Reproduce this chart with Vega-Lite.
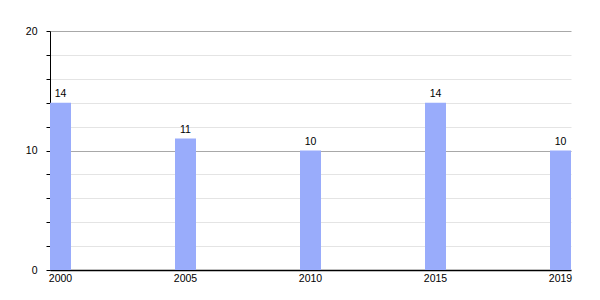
{
  "$schema": "https://vega.github.io/schema/vega-lite/v6.json",
  "autosize": "none",
  "padding": {"left": 50, "top": 31, "right": 29, "bottom": 30},
  "width": 521,
  "height": 239,
  "background": "white",
  "config": {
    "view": {"stroke": null},
    "font": "Liberation Sans",
    "axis": {"labelFont": "Liberation Sans", "labelColor": "#000", "labelFontSize": 10.5}
  },
  "data": {
    "values": [
      {"year": "2000", "value": 14},
      {"year": "2005", "value": 11},
      {"year": "2010", "value": 10},
      {"year": "2015", "value": 14},
      {"year": "2019", "value": 10}
    ]
  },
  "encoding": {
    "x": {
      "field": "year",
      "type": "ordinal",
      "sort": null,
      "scale": {"paddingInner": 0.832, "paddingOuter": 0},
      "axis": {
        "title": null,
        "labelAngle": 0,
        "ticks": false,
        "domainColor": "#000",
        "domainWidth": 1.5,
        "labelPadding": 3,
        "grid": false
      }
    },
    "y": {
      "field": "value",
      "type": "quantitative",
      "scale": {"domain": [0, 20], "nice": false},
      "axis": {
        "title": null,
        "values": [0, 2, 4, 6, 8, 10, 12, 14, 16, 18, 20],
        "labelExpr": "datum.value % 10 === 0 ? datum.label : ''",
        "tickSize": 4,
        "tickColor": "#000",
        "domainColor": "#000",
        "domainWidth": 1,
        "labelPadding": 9,
        "grid": true,
        "gridColor": {"condition": {"test": "datum.value % 10 === 0", "value": "#a8a8a8"}, "value": "#e4e4e4"}
      }
    }
  },
  "layer": [
    {"mark": {"type": "bar", "color": "#99acfb"}},
    {
      "mark": {"type": "text", "baseline": "bottom", "dy": -4, "fontSize": 10.5, "color": "#000", "font": "Liberation Sans"},
      "encoding": {"text": {"field": "value", "type": "quantitative"}}
    }
  ]
}
